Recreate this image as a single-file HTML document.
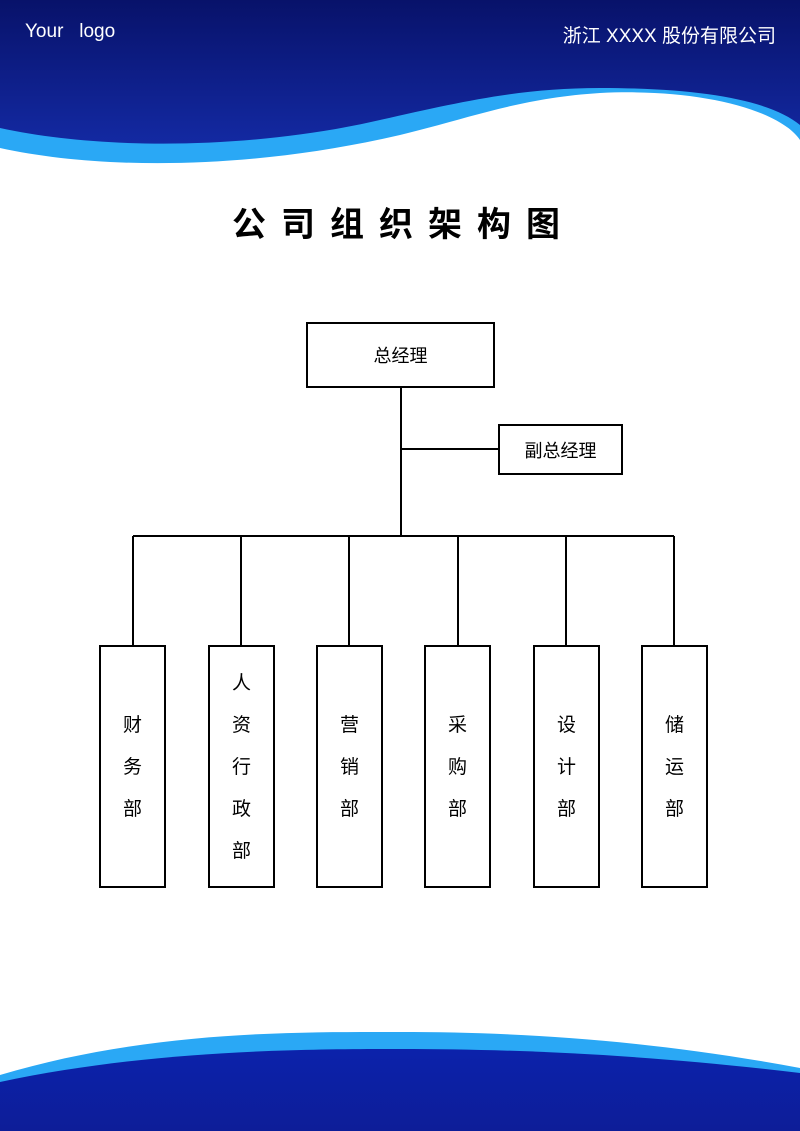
<!DOCTYPE html>
<html><head><meta charset="utf-8"><style>
body{margin:0;width:800px;height:1131px;position:relative;overflow:hidden;background:#fff;font-family:"Liberation Sans","Noto Sans CJK SC",sans-serif}
.t{position:absolute;color:#fff;font-size:19px;top:21px}
.title{position:absolute;left:0;width:800px;top:197px;text-align:center;font-size:34px;font-weight:bold;letter-spacing:15px;padding-left:7px;box-sizing:border-box}
.b{position:absolute;border:2px solid #000;box-sizing:border-box;display:flex;align-items:center;justify-content:center;font-size:18px}
.v{position:absolute;border:2px solid #000;box-sizing:border-box;width:67px;top:645px;height:243px;display:flex;flex-direction:column;align-items:center;justify-content:center;font-size:19px;line-height:42px;padding-top:2px}
</style></head><body>
<svg width="800" height="1131" style="position:absolute;left:0;top:0">
<defs><linearGradient id="g" x1="0" y1="0" x2="0" y2="1"><stop offset="0" stop-color="#08126a"/><stop offset="1" stop-color="#1329a2"/></linearGradient>
<linearGradient id="g2" x1="0" y1="0" x2="0" y2="1"><stop offset="0" stop-color="#0c22ab"/><stop offset="1" stop-color="#0d1d98"/></linearGradient></defs>
<path d="M0 0H800V140C780 110 700 88 600 93C520 98 470 118 400 135C250 170 100 170 0 148Z" fill="#2aa8f5"/>
<path d="M0 0H800V125C770 100 700 88 600 88C520 88 460 102 380 120C250 150 100 150 0 128Z" fill="url(#g)"/>
<path d="M0 1131V1075C150 1030 300 1032 400 1032C520 1032 650 1040 800 1068V1131Z" fill="#2aa8f5"/>
<path d="M0 1131V1082C150 1050 300 1049 400 1049C520 1049 650 1055 800 1073V1131Z" fill="url(#g2)"/>
<g stroke="#000" stroke-width="2" fill="none">
<path d="M401 387V536M401 449H499M133 536H674"/>
<path d="M133 536V646M241 536V646M349 536V646M458 536V646M566 536V646M674 536V646"/>
</g>
</svg>
<div class="t" style="left:25px">Your&nbsp;&nbsp;&nbsp;logo</div>
<div class="t" style="right:24px">浙江 XXXX 股份有限公司</div>
<div class="title">公司组织架构图</div>
<div class="b" style="left:306px;top:322px;width:189px;height:66px">总经理</div>
<div class="b" style="left:498px;top:424px;width:125px;height:51px">副总经理</div>
<div class="v" style="left:99px">财<br>务<br>部</div>
<div class="v" style="left:208px">人<br>资<br>行<br>政<br>部</div>
<div class="v" style="left:316px">营<br>销<br>部</div>
<div class="v" style="left:424px">采<br>购<br>部</div>
<div class="v" style="left:533px">设<br>计<br>部</div>
<div class="v" style="left:641px">储<br>运<br>部</div>
</body></html>
